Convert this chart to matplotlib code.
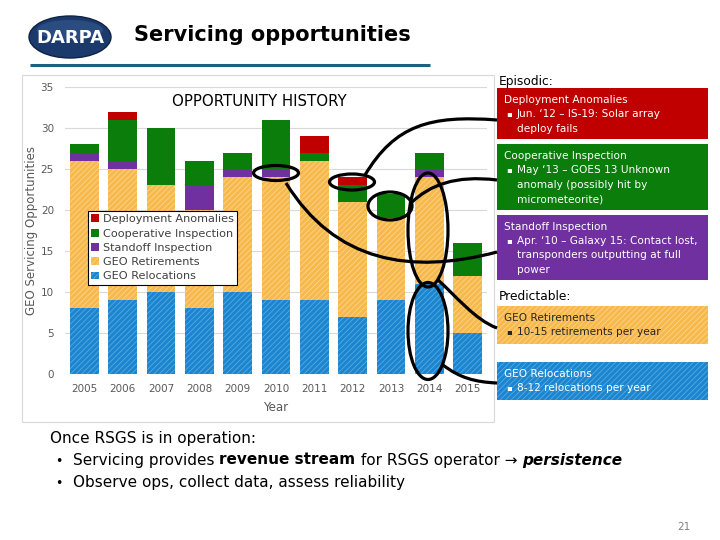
import numpy as np
import matplotlib.pyplot as plt
from matplotlib.patches import Ellipse, Rectangle, PathPatch, Patch
from matplotlib.path import Path

plt.rcParams['font.family'] = ['DejaVu Sans']
plt.rcParams['hatch.linewidth'] = 0.6

# ------------------------------
# Data
# ------------------------------
years = ['2005', '2006', '2007', '2008', '2009', '2010',
         '2011', '2012', '2013', '2014', '2015']
relocations = [8, 9, 10, 8, 10, 9, 9, 7, 9, 11, 5]
retirements = [18, 16, 13, 12, 14, 15, 17, 14, 10, 13, 7]
standoff = [1, 1, 0, 3, 1, 1, 0, 0, 0, 1, 0]
cooperative = [1, 5, 7, 3, 2, 6, 1, 2, 3, 2, 4]
deployment = [0, 1, 0, 0, 0, 0, 2, 1, 0, 0, 0]
yticks = [0, 5, 10, 15, 20, 25, 30, 35]

RED = '#C00000'
GREEN = '#0A7D0A'
PURPLE = '#7030A0'
ORANGE = '#F7B84C'
ORANGE_H = '#FBD58E'
BLUE = '#1B86CF'
BLUE_H = '#5AAAE0'
GRAY = '#595959'

fig = plt.figure(figsize=(7.2, 5.4), dpi=100)

# ------------------------------
# Chart
# ------------------------------
ax = fig.add_axes([65/720, 1-374/540, 422/720, 287/540])
x = np.arange(len(years))
w = 0.75
bottom = np.zeros(len(years))
series = [
    (relocations, 'GEO Relocations', BLUE, BLUE_H, '//////'),
    (retirements, 'GEO Retirements', ORANGE, ORANGE_H, '//////'),
    (standoff, 'Standoff Inspection', PURPLE, PURPLE, None),
    (cooperative, 'Cooperative Inspection', GREEN, GREEN, None),
    (deployment, 'Deployment Anomalies', RED, RED, None),
]
handles = []
for vals, lab, fc, hc, hatch in series:
    ax.bar(x, vals, w, bottom=bottom, color=fc, edgecolor=hc, hatch=hatch,
           linewidth=0, zorder=2)
    bottom += np.array(vals)
    handles.append(Patch(facecolor=fc, edgecolor=hc, hatch=hatch, linewidth=0, label=lab))

ax.set_xlim(-0.5, len(years) - 0.5)
ax.set_ylim(0, 35)
ax.set_yticks(yticks)
ax.set_xticks(x)
ax.set_xticklabels(years)
ax.tick_params(length=0, labelsize=7.5, labelcolor=GRAY)
ax.tick_params(axis='y', pad=8)
ax.tick_params(axis='x', pad=7)
ax.grid(axis='y', color='#D9D9D9', linewidth=0.8, zorder=0)
for s in ax.spines.values():
    s.set_visible(False)
ax.set_ylabel('GEO Servicing Opportunities', fontsize=8.5, color=GRAY, labelpad=2)
ax.set_xlabel('Year', fontsize=8.5, color=GRAY, labelpad=5)

leg = ax.legend(handles=handles[::-1], loc='upper left', bbox_to_anchor=(0.054, 0.568),
                borderaxespad=0, fontsize=8.1, frameon=True, fancybox=False,
                handlelength=0.7, handleheight=0.7, handletextpad=0.35,
                labelspacing=0.38, borderpad=0.3, framealpha=1)
leg.get_frame().set_edgecolor('black')
leg.get_frame().set_linewidth(0.8)
for t in leg.get_texts():
    t.set_color('#404040')

# ------------------------------
# Slide overlay (pixel coordinates)
# ------------------------------
ov = fig.add_axes([0, 0, 1, 1], zorder=5)
ov.set_xlim(0, 720)
ov.set_ylim(540, 0)
ov.axis('off')
ov.patch.set_alpha(0)

# chart panel frame
ov.add_patch(Rectangle((22, 75), 472, 347, fill=False, edgecolor='#D9D9D9', linewidth=0.8))
ov.text(172, 102, 'OPPORTUNITY HISTORY', fontsize=10.8, va='center', ha='left')

# header
ov.add_patch(Ellipse((70, 37), 82, 42, facecolor='#1B3A6B', edgecolor='#0E2246', linewidth=1))
ov.add_patch(Ellipse((70, 30), 66, 20, facecolor='#3C5F95', edgecolor='none', alpha=0.5))
ov.text(70, 38, 'DARPA', color='white', fontsize=13, fontweight='bold', ha='center', va='center')
ov.text(134, 35, 'Servicing opportunities', fontsize=15, fontweight='bold', va='center')
ov.plot([30, 430], [65, 65], color='#1F5F7F', linewidth=2.2, solid_capstyle='butt')

# right-hand explanation boxes
bx, bw = 497, 211
fs = 7.6
ov.text(499, 82, 'Episodic:', fontsize=8.8, va='center')
ov.text(499, 297, 'Predictable:', fontsize=8.8, va='center')

boxes = [
    (88, 51, RED, RED, None, 'white', 'Deployment Anomalies',
     ["Jun. \u201812 \u2013 IS-19: Solar array", "deploy fails"]),
    (144, 66, GREEN, GREEN, None, 'white', 'Cooperative Inspection',
     ["May \u201813 \u2013 GOES 13 Unknown", "anomaly (possibly hit by", "micrometeorite)"]),
    (215, 65, PURPLE, PURPLE, None, 'white', 'Standoff Inspection',
     ["Apr. \u201810 \u2013 Galaxy 15: Contact lost,", "transponders outputting at full", "power"]),
    (306, 38, ORANGE, ORANGE_H, '//////', '#262626', 'GEO Retirements',
     ["10-15 retirements per year"]),
    (362, 38, BLUE, BLUE_H, '//////', 'white', 'GEO Relocations',
     ["8-12 relocations per year"]),
]
for top, h, fc, hc, hatch, tc, head, lines in boxes:
    ov.add_patch(Rectangle((bx, top), bw, h, facecolor=fc, edgecolor=hc, hatch=hatch, linewidth=0))
    ov.text(504, top + 12, head, color=tc, fontsize=fs, va='center')
    for i, ln in enumerate(lines):
        yy = top + 26 + 14.5 * i
        if i == 0:
            ov.text(506, yy, '\u25aa', color=tc, fontsize=fs - 1.5, va='center')
        ov.text(517, yy, ln, color=tc, fontsize=fs, va='center')

# black hand-drawn annotation ellipses
lw = 2.3
for cx, cy, ew, eh in [(276, 173, 45, 15), (352, 182, 45, 16), (390, 206, 44, 28),
                       (428, 230, 40, 114), (428, 331, 40, 97)]:
    ov.add_patch(Ellipse((cx, cy), ew, eh, fill=False, edgecolor='black', linewidth=lw))

curves = [
    [(365, 175), (395, 125), (430, 115), (497, 120)],
    [(411, 203), (430, 185), (455, 175), (497, 180)],
    [(286, 183), (335, 262), (410, 275), (497, 252)],
    [(438, 280), (455, 295), (475, 320), (497, 328)],
    [(443, 365), (460, 378), (475, 382), (497, 383)],
]
for pts in curves:
    path = Path(pts, [Path.MOVETO, Path.CURVE4, Path.CURVE4, Path.CURVE4])
    ov.add_patch(PathPatch(path, fill=False, edgecolor='black', linewidth=lw))

# bottom text
fb = 11
ov.text(50, 438, 'Once RSGS is in operation:', fontsize=fb, va='center')
ov.text(55, 461, '\u2022', fontsize=fb - 2, va='center')
ov.text(55, 483, '\u2022', fontsize=fb - 2, va='center')
t1 = ov.text(73, 460, 'Servicing provides ', fontsize=fb, va='center')
t2 = ov.annotate('revenue stream', xy=(1, 0), xycoords=t1, va='bottom', fontsize=fb, fontweight='bold')
t3 = ov.annotate(' for RSGS operator \u2192 ', xy=(1, 0), xycoords=t2, va='bottom', fontsize=fb)
ov.annotate('persistence', xy=(1, 0), xycoords=t3, va='bottom', fontsize=fb,
            fontweight='bold', fontstyle='italic')
ov.text(73, 482, 'Observe ops, collect data, assess reliability', fontsize=fb, va='center')

ov.text(684, 527, '21', fontsize=7.5, color='#808080', ha='center', va='center')

fig.savefig('out.png', dpi=100)
